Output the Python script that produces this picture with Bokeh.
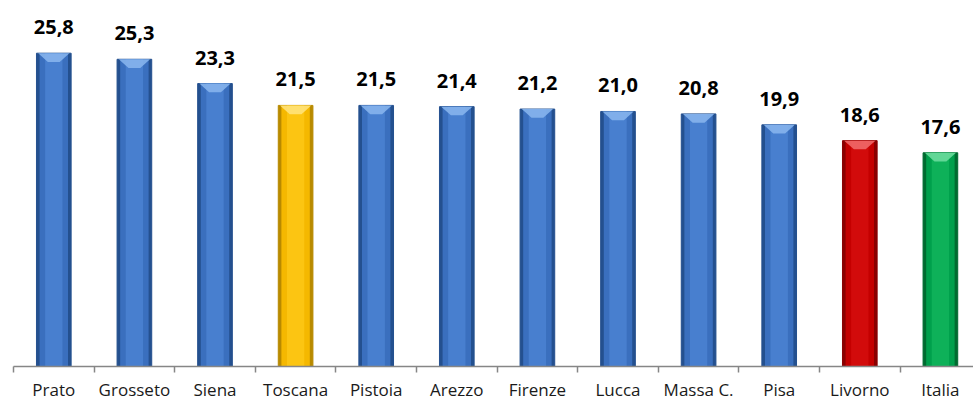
from bokeh.plotting import figure
from bokeh.models import ColumnDataSource, FixedTicker, Range1d
from bokeh.core.properties import value
from bokeh.embed import file_html
from bokeh.resources import INLINE

categories = ["Prato", "Grosseto", "Siena", "Toscana", "Pistoia", "Arezzo",
              "Firenze", "Lucca", "Massa C.", "Pisa", "Livorno", "Italia"]
values = [25.8, 25.3, 23.3, 21.5, 21.5, 21.4, 21.2, 21.0, 20.8, 19.9, 18.6, 17.6]
labels = ["25,8", "25,3", "23,3", "21,5", "21,5", "21,4", "21,2", "21,0", "20,8", "19,9", "18,6", "17,6"]

blue = ("#24508F", "#3A6FBE", "#4F86D6", "#86B4EC")
yellow = ("#B88A00", "#F5B800", "#FFCA1A", "#FFE27A")
red = ("#8A0000", "#C40000", "#D81010", "#F06868")
green = ("#006B30", "#00A04C", "#14B860", "#6ADB9C")
palette = {"Toscana": yellow, "Livorno": red, "Italia": green}

x = [i + 0.5 for i in range(len(categories))]
cols = [palette.get(c, blue) for c in categories]

W = 0.43
src = ColumnDataSource(dict(
    x=x, top=values, label=labels,
    edge=[c[0] for c in cols], body=[c[1] for c in cols],
    hi=[c[2] for c in cols], bevel=[c[3] for c in cols],
))

# top bevel trapezoids derived from data values
bw, bh, inset = W * 0.9, 0.72, 0.12
bev_xs = [[xi - bw / 2, xi + bw / 2, xi + bw / 2 - inset, xi - bw / 2 + inset] for xi in x]
bev_ys = [[v, v, v - bh, v - bh] for v in values]
bev = ColumnDataSource(dict(xs=bev_xs, ys=bev_ys, c=[c[3] for c in cols]))

p = figure(width=973, height=403, output_backend="svg", toolbar_location=None,
           x_range=Range1d(0, 960 / 80.6), y_range=Range1d(0, 368 / 12.21),
           min_border_left=13, min_border_right=0, min_border_top=0, min_border_bottom=35)
p.outline_line_color = None
p.grid.grid_line_color = None
p.yaxis.visible = False
p.background_fill_color = "white"

p.vbar(x="x", top="top", bottom=0, width=W, source=src, fill_color="edge", line_color="edge", line_width=1)
p.vbar(x="x", top="top", bottom=0, width=W * 0.82, source=src, fill_color="body", line_color=None)
p.vbar(x="x", top="top", bottom=0, width=W * 0.5, source=src, fill_color="hi", line_color=None, fill_alpha=0.7)
p.patches(xs="xs", ys="ys", source=bev, fill_color="c", line_color=None, fill_alpha=0.9)

p.text(x="x", y="top", text="label", source=src, text_align="center", text_baseline="middle",
       y_offset=-26, text_font=value("Open Sans"), text_font_style="bold",
       text_font_size="20px", text_color="black")

p.xaxis.ticker = FixedTicker(ticks=x, minor_ticks=list(range(len(categories) + 1)))
p.xaxis.major_label_overrides = {xi: c for xi, c in zip(x, categories)}
p.xaxis.major_tick_out = 0
p.xaxis.major_tick_in = 0
p.xaxis.minor_tick_out = 6
p.xaxis.minor_tick_in = 0
p.xaxis.minor_tick_line_color = "#868686"
p.xaxis.axis_line_color = "#868686"
p.xaxis.axis_line_width = 1.5
p.xaxis.minor_tick_line_width = 1.5
p.xaxis.major_label_standoff = 5
p.xaxis.major_label_text_font = "Open Sans"
p.xaxis.major_label_text_font_size = "17px"
p.xaxis.major_label_text_color = "#1a1a1a"

open("out.html", "w").write(file_html(p, INLINE))
